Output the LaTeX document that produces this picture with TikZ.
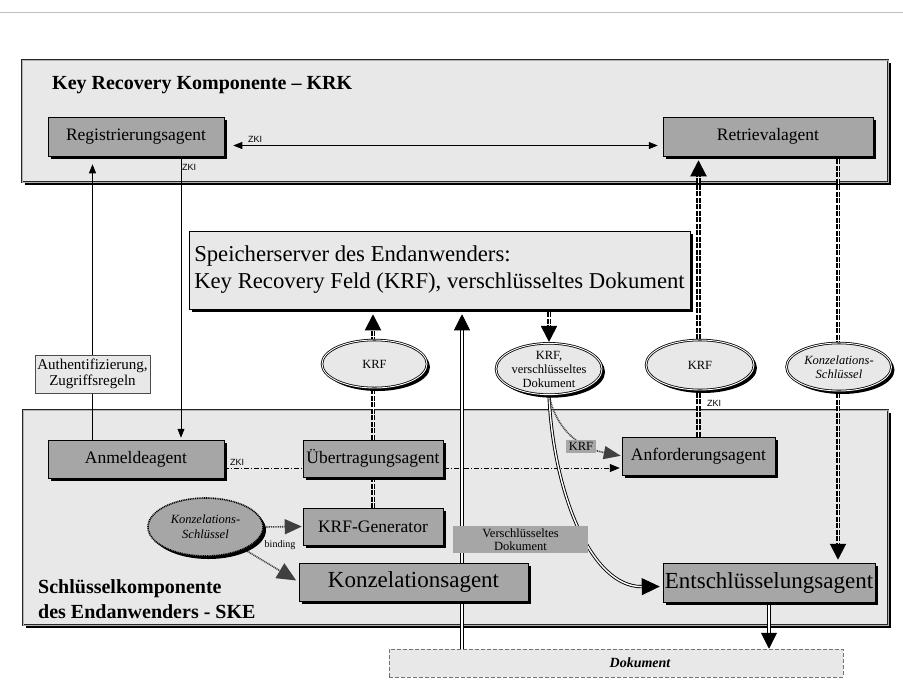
\documentclass[tikz,border=0pt]{standalone}
\usepackage{fontspec}
\setmainfont{Liberation Serif}
\newfontfamily\zkifont{Liberation Sans}
\usetikzlibrary{arrows.meta,shapes.geometric,shadows}
\definecolor{panelgray}{HTML}{E8E8E8}
\definecolor{agentgray}{HTML}{A6A6A6}
\pgfdeclarelayer{panel}
\pgfdeclarelayer{wire}
\pgfsetlayers{panel,wire,main}

\tikzset{
  castshadow/.style={drop shadow={shadow xshift=3pt, shadow yshift=-3pt, fill=black, opacity=1}},
  panel/.style={rectangle, draw=black!85, line width=0.6pt, double=black!30, double distance=0.8pt,
    fill=panelgray, inner sep=0pt, castshadow},
  agent/.style={rectangle, draw=black, line width=0.5pt, fill=agentgray, inner sep=0pt, castshadow,
    font=\fontsize{17.5}{20}\selectfont},
  bigagent/.style={agent, font=\fontsize{23}{26}\selectfont},
  server/.style={rectangle, draw=black, line width=0.5pt, fill=panelgray, inner sep=0pt, castshadow,
    align=left, font=\fontsize{22.7}{27}\selectfont},
  note/.style={rectangle, draw=black!70, line width=0.4pt, fill=panelgray, inner sep=0pt,
    align=center, font=\fontsize{15}{15.5}\selectfont},
  token/.style={ellipse, draw=black, line width=0.8pt, double=white, double distance=0.9pt,
    fill=panelgray, inner sep=0pt, castshadow, align=center, font=\fontsize{12.5}{14}\selectfont},
  keytoken/.style={ellipse, draw=black, line width=1.6pt, dash pattern=on 1pt off 0.8pt,
    fill=agentgray, inner sep=0pt, castshadow, align=center, font=\itshape\fontsize{12.5}{15}\selectfont},
  tag/.style={rectangle, fill=agentgray, inner sep=0pt, align=center, font=\fontsize{12.5}{13}\selectfont},
  dokbox/.style={rectangle, draw=black!55, line width=0.5pt, dash pattern=on 4pt off 2pt,
    fill=panelgray, inner sep=0pt},
  zki/.style={inner sep=0pt, font=\zkifont\fontsize{9}{10}\selectfont},
  thinarrow/.style={line width=0.7pt, -{Triangle[length=9pt,width=7pt]}},
  bigtip/.style={-{Triangle[length=16pt,width=16pt]}},
  keyline/.style={line width=2pt, double=white, double distance=0.9pt, dash pattern=on 5pt off 1.5pt},
  docline/.style={line width=0.9pt, double=white, double distance=1.4pt},
  dotline/.style={line width=1.6pt, black!75, dash pattern=on 1pt off 0.8pt},
  zkiline/.style={line width=0.7pt, dash pattern=on 5pt off 2pt on 1pt off 2pt,
    -{Triangle[length=10pt,width=8pt]}}
}

\begin{document}
\begin{tikzpicture}[x=1pt, y=-1pt, line join=miter]
\useasboundingbox (0,0) rectangle (903,689);
\draw[black!25] (0,12) -- (903,12);

% the two components
\begin{pgfonlayer}{panel}
\node[panel, minimum width=866pt, minimum height=122pt] (krk) at (455,121) {};
\node[panel, minimum width=865pt, minimum height=215pt] (ske) at (455.5,517.5) {};
\end{pgfonlayer}
\node[anchor=base west, inner sep=0pt, font=\bfseries\fontsize{20}{24}\selectfont] (krktitle) at (52,89) {Key Recovery Komponente -- KRK};
\node[anchor=west, inner sep=0pt, align=left, font=\bfseries\fontsize{20}{25}\selectfont] (sketitle) at (38,599) {Schlüsselkomponente\\des Endanwenders - SKE};

% agents
\node[agent, minimum width=176pt, minimum height=39pt] (reg) at (136,136.5) {Registrierungsagent};
\node[agent, minimum width=210pt, minimum height=39pt] (ret) at (768,136.5) {Retrievalagent};
\node[server, minimum width=501pt, minimum height=78pt] (srv) at (439.5,270) {Speicherserver des Endanwenders:\\Key Recovery Feld (KRF), verschlüsseltes Dokument};
\node[note, minimum width=115pt, minimum height=38pt] (auth) at (92.5,374) {Authentifizierung,\\Zugriffsregeln};
\node[agent, minimum width=176pt, minimum height=38pt] (anm) at (136,459) {Anmeldeagent};
\node[agent, minimum width=140pt, minimum height=37pt] (ueb) at (373,458.5) {Übertragungsagent};
\node[agent, minimum width=140pt, minimum height=37pt] (gen) at (373,526.5) {KRF-Generator};
\node[bigagent, minimum width=229pt, minimum height=38pt] (konz) at (413.5,582) {Konzelationsagent};
\node[agent, minimum width=153pt, minimum height=38pt] (anf) at (698.5,456) {Anforderungsagent};
\node[bigagent, minimum width=212pt, minimum height=39pt] (ent) at (769,582.5) {Entschlüsselungsagent};
\node[dokbox, minimum width=454pt, minimum height=28pt] (dok) at (616,663) {};
\node[inner sep=0pt, font=\bfseries\itshape\fontsize{14}{16}\selectfont] (doktext) at (640,663) {Dokument};

% exchanged data
\node[token, minimum width=105pt, minimum height=48pt] (krfup) at (374.5,364) {KRF};
\node[token, minimum width=105pt, minimum height=50pt] (krfdok) at (549,369) {KRF,\\verschlüsseltes\\Dokument};
\node[token, minimum width=108pt, minimum height=50pt] (krfret) at (700,365) {KRF};
\node[token, minimum width=105pt, minimum height=48pt, font=\itshape\fontsize{12.5}{14}\selectfont] (keyret) at (839,367) {Konzelations-\\Schlüssel};
\node[keytoken, minimum width=115pt, minimum height=58pt] (keyske) at (205.5,527) {Konzelations-\\Schlüssel};
\node[tag, minimum width=135pt, minimum height=27pt] (vdok) at (520.5,539.5) {Verschlüsseltes\\Dokument};
\node[tag, minimum width=30pt, minimum height=13pt] (krftag) at (581,446) {KRF};

% connectors
\begin{pgfonlayer}{wire}
\draw[thinarrow, {Triangle[length=9pt,width=7pt]}-{Triangle[length=9pt,width=7pt]}, shorten <=9pt, shorten >=5pt]
  ([yshift=-9pt]reg.east) -- ([yshift=-9pt]ret.west);
\draw[line width=0.7pt] (auth.south) -- (auth.south |- anm.north);
\draw[thinarrow, shorten >=8pt] (auth.north) -- (auth.north |- reg.south);
\draw[thinarrow, shorten >=2pt] (181,0 |- reg.south) -- (181,0 |- anm.north);
\draw[zkiline, shorten >=2pt] ([yshift=-9pt]anm.east) -- ([yshift=-9pt]anm.east -| anf.west);
\draw[keyline, bigtip, shorten >=5pt] (ueb.north) -- (ueb.north |- srv.south);
\draw[keyline] (ueb.south) -- (gen.north);
\draw[keyline, bigtip, shorten <=3pt, shorten >=1pt] (krfdok.north |- srv.south) -- (krfdok.north);
\draw[keyline, bigtip, shorten >=4pt] (anf.north) -- (anf.north |- ret.south);
\draw[keyline, bigtip, shorten <=3pt, shorten >=3pt] (838,0 |- ret.south) -- (838,0 |- ent.north);
\draw[docline, bigtip, shorten >=5pt] (462,0 |- dok.north) -- (462,0 |- srv.south);
\draw[docline, -{Triangle[length=18pt,width=17pt]}, shorten >=3pt]
  (krfdok.south) .. controls (553,490) and (590,587) .. ([yshift=-4pt]ent.west);
\draw[dotline, -{Triangle[length=17pt,width=13pt]}, shorten >=1pt]
  (krfdok.south) .. controls (555,425) and (575,447) .. (anf.west);
\draw[dotline, -{Triangle[length=17pt,width=15pt]}, shorten >=1pt] (keyske.east) -- (gen.west);
\draw[dotline, -{Triangle[length=19pt,width=17pt]}, shorten >=3pt] (keyske.-30) -- (konz.west);
\draw[docline, bigtip] (ent.south) -- (ent.south |- dok.north);
\end{pgfonlayer}

% labels
\node[zki, anchor=west] (zkiret) at (248,139) {ZKI};
\node[zki, anchor=west] (zkireg) at (182,167) {ZKI};
\node[zki, anchor=west] (zkianm) at (230,462) {ZKI};
\node[zki, anchor=west] (zkianf) at (707,403) {ZKI};
\node[inner sep=0pt, font=\fontsize{10}{11}\selectfont] (binding) at (280,545) {binding};
\end{tikzpicture}
\end{document}
